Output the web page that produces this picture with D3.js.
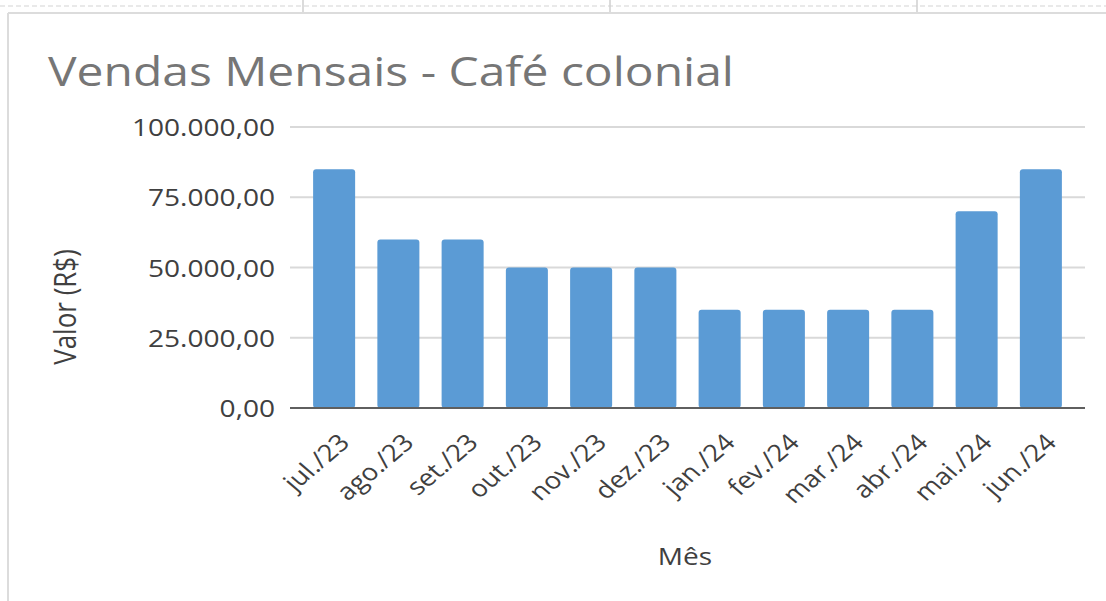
<!DOCTYPE html>
<html>
<head>
<meta charset="utf-8">
<script src="https://cdn.jsdelivr.net/npm/d3@7"></script>
<style>
  html, body { margin: 0; padding: 0; background: #ffffff; }
  svg { display: block; font-family: "Open Sans", "Noto Sans", sans-serif; }
</style>
</head>
<body>
<svg id="chart" width="1106" height="601"></svg>
<script>
// ---- data ----
const months = ["jul./23","ago./23","set./23","out./23","nov./23","dez./23","jan./24","fev./24","mar./24","abr./24","mai./24","jun./24"];
const sales = [85000, 60000, 60000, 50000, 50000, 50000, 35000, 35000, 35000, 35000, 70000, 85000];
const yTicks = [0, 25000, 50000, 75000, 100000];
const titleText = "Vendas Mensais - Café colonial";
const yTitle = "Valor (R$)";
const xTitle = "Mês";

// ---- setup ----
const W = 1106, H = 601;
const SX = 1.17; // horizontal stretch of text seen in reference
const svg = d3.select("#chart");
const ptBR = d3.formatLocale({decimal: ",", thousands: ".", grouping: [3], currency: ["R$ ", ""]});
const fmt = ptBR.format(",.2f");

const x = d3.scaleBand().domain(months).range([302, 1073]).paddingInner(0.346).paddingOuter(0.173);
const y = d3.scaleLinear().domain([0, 100000]).range([408, 127]);
const gridX0 = 290, gridX1 = 1085;

// ---- sheet decorations (spreadsheet background) ----
svg.append("line").attr("x1", 0).attr("x2", W).attr("y1", 6).attr("y2", 6)
  .attr("stroke", "#e2e2e2").attr("stroke-width", 1.5).attr("stroke-dasharray", "5,3");
[303, 610, 917].forEach(v => {
  svg.append("line").attr("x1", v).attr("x2", v).attr("y1", 0).attr("y2", 13)
    .attr("stroke", "#cfcfcf").attr("stroke-width", 1.5);
});
svg.append("line").attr("x1", 8).attr("x2", W).attr("y1", 13).attr("y2", 13)
  .attr("stroke", "#dcdcdc").attr("stroke-width", 2);
svg.append("line").attr("x1", 8).attr("x2", 8).attr("y1", 13).attr("y2", H)
  .attr("stroke", "#dcdcdc").attr("stroke-width", 2);

// ---- title ----
svg.append("text")
  .attr("transform", `translate(48,86) scale(${SX},1)`)
  .attr("font-size", 41).attr("fill", "#767676")
  .text(titleText);

// ---- gridlines ----
svg.append("g").selectAll("line").data(yTicks.filter(d => d !== 0)).join("line")
  .attr("x1", gridX0).attr("x2", gridX1)
  .attr("y1", d => y(d)).attr("y2", d => y(d))
  .attr("stroke", "#d9d9d9").attr("stroke-width", 2);

// ---- y tick labels ----
svg.append("g").selectAll("text").data(yTicks).join("text")
  .attr("transform", d => `translate(275,${y(d) + 9}) scale(${SX},1)`)
  .attr("text-anchor", "end").attr("font-size", 24).attr("fill", "#404040")
  .text(d => fmt(d));

// ---- bars ----
svg.append("g").selectAll("rect").data(sales).join("rect")
  .attr("x", (d, i) => x(months[i]))
  .attr("width", x.bandwidth())
  .attr("y", d => y(d))
  .attr("height", d => y(0) - y(d))
  .attr("rx", 3).attr("ry", 3)
  .attr("fill", "#5b9bd5");

// ---- baseline axis ----
svg.append("line").attr("x1", gridX0).attr("x2", gridX1).attr("y1", y(0)).attr("y2", y(0))
  .attr("stroke", "#5f5f5f").attr("stroke-width", 2);

// ---- x labels ----
svg.append("g").selectAll("text").data(months).join("text")
  .attr("transform", d => `translate(${x(d) + x.bandwidth() / 2 + 17},444) scale(${SX},1) rotate(-45)`)
  .attr("text-anchor", "end").attr("font-size", 23.5).attr("fill", "#404040")
  .text(d => d);

// ---- axis titles ----
svg.append("text")
  .attr("transform", `translate(76,307) scale(${SX},1) rotate(-90)`)
  .attr("text-anchor", "middle").attr("font-size", 26).attr("fill", "#404040")
  .text(yTitle);
svg.append("text")
  .attr("transform", `translate(685,565) scale(${SX},1)`)
  .attr("text-anchor", "middle").attr("font-size", 24).attr("fill", "#404040")
  .text(xTitle);
</script>
</body>
</html>
